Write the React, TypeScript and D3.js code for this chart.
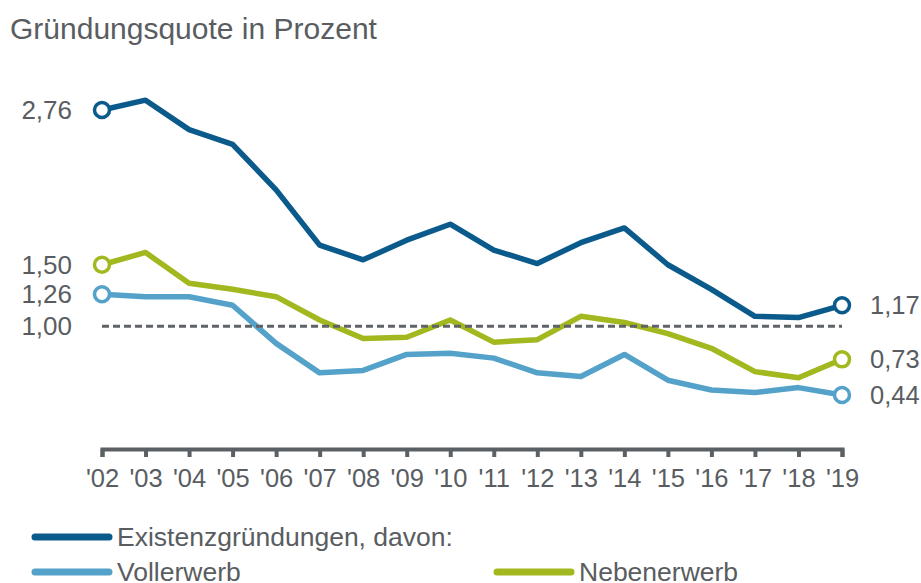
import React, { useEffect, useRef } from 'react';
import * as d3 from 'd3';

const years = ["'02", "'03", "'04", "'05", "'06", "'07", "'08", "'09", "'10", "'11", "'12", "'13", "'14", "'15", "'16", "'17", "'18", "'19"];
const existenz = [2.76, 2.84, 2.6, 2.48, 2.11, 1.66, 1.54, 1.7, 1.83, 1.62, 1.51, 1.68, 1.8, 1.5, 1.3, 1.08, 1.07, 1.17];
const vollerwerb = [1.26, 1.24, 1.24, 1.17, 0.86, 0.62, 0.64, 0.77, 0.78, 0.74, 0.62, 0.59, 0.77, 0.56, 0.48, 0.46, 0.5, 0.44];
const nebenerwerb = [1.5, 1.6, 1.35, 1.3, 1.24, 1.05, 0.9, 0.91, 1.05, 0.87, 0.89, 1.08, 1.03, 0.94, 0.82, 0.63, 0.58, 0.73];
const leftLabels = [2.76, 1.5, 1.26, 1.0];

const W = 921
const H = 583
const textColor = '#595d61'
const fontFamily = 'Liberation Sans, Arial, sans-serif'

const series = [
  { name: 'Existenzgründungen, davon:', values: existenz, color: '#0a5a8b' },
  { name: 'Vollerwerb', values: vollerwerb, color: '#54a2ca' },
  { name: 'Nebenerwerb', values: nebenerwerb, color: '#a3b81e' },
]

const fmt = (v: number) => v.toFixed(2).replace('.', ',')

export default function App() {
  const ref = useRef<SVGSVGElement>(null)

  useEffect(() => {
    const svg = d3.select(ref.current)
    svg.selectAll('*').remove()

    const x = d3.scalePoint<string>().domain(years).range([102, 842])
    const y = d3.scaleLinear().domain([0, 2.76]).range([449, 110])

    // title
    svg.append('text')
      .attr('x', 10).attr('y', 39)
      .attr('font-size', 30)
      .attr('font-family', fontFamily)
      .attr('fill', textColor)
      .text('Gründungsquote in Prozent')

    // x axis
    const axis = svg.append('g')
      .attr('transform', 'translate(0,' + y(0) + ')')
      .call(d3.axisBottom(x).tickSize(8).tickPadding(12))
    axis.selectAll('path, line').attr('stroke', '#5b6065').attr('stroke-width', 4)
    axis.selectAll('text')
      .attr('font-size', 25.5)
      .attr('font-family', fontFamily)
      .attr('fill', textColor)

    // lines
    const line = d3.line<number>()
      .x((d, i) => x(years[i]) as number)
      .y(d => y(d))

    series.forEach(s => {
      svg.append('path')
        .datum(s.values)
        .attr('fill', 'none')
        .attr('stroke', s.color)
        .attr('stroke-width', 5.5)
        .attr('stroke-linejoin', 'round')
        .attr('d', line)
    })

    // reference line at 1,00
    svg.append('line')
      .attr('x1', x(years[0]) as number).attr('x2', x(years[years.length - 1]) as number)
      .attr('y1', y(1)).attr('y2', y(1))
      .attr('stroke', '#5f6368')
      .attr('stroke-width', 3)
      .attr('stroke-dasharray', '7,4')

    // end markers
    series.forEach(s => {
      const last = s.values.length - 1
      ;[0, last].forEach(i => {
        svg.append('circle')
          .attr('cx', x(years[i]) as number)
          .attr('cy', y(s.values[i]))
          .attr('r', 7.5)
          .attr('fill', '#fff')
          .attr('stroke', s.color)
          .attr('stroke-width', 3.5)
      })
      svg.append('text')
        .attr('x', 870)
        .attr('y', y(s.values[last]))
        .attr('dy', '0.35em')
        .attr('font-size', 25.5)
        .attr('font-family', fontFamily)
        .attr('fill', textColor)
        .text(fmt(s.values[last]))
    })

    // left labels
    leftLabels.forEach(v => {
      svg.append('text')
        .attr('x', 72)
        .attr('y', y(v))
        .attr('dy', '0.35em')
        .attr('text-anchor', 'end')
        .attr('font-size', 26)
        .attr('font-family', fontFamily)
        .attr('fill', textColor)
        .text(fmt(v))
    })

    // legend
    const legend = [
      { s: series[0], x: 35, y: 537 },
      { s: series[1], x: 35, y: 572 },
      { s: series[2], x: 497, y: 572 },
    ]
    legend.forEach(l => {
      svg.append('line')
        .attr('x1', l.x).attr('x2', l.x + 74)
        .attr('y1', l.y).attr('y2', l.y)
        .attr('stroke', l.s.color)
        .attr('stroke-width', 7)
        .attr('stroke-linecap', 'round')
      svg.append('text')
        .attr('x', l.x + 82)
        .attr('y', l.y)
        .attr('dy', '0.35em')
        .attr('font-size', 26.5)
        .attr('font-family', fontFamily)
        .attr('fill', textColor)
        .text(l.s.name)
    })
  }, [])

  return (
    <div style={{ position: 'absolute', left: 0, top: 0 }}>
      <svg ref={ref} width={W} height={H} style={{ display: 'block', background: '#fff' }} />
    </div>
  )
}
